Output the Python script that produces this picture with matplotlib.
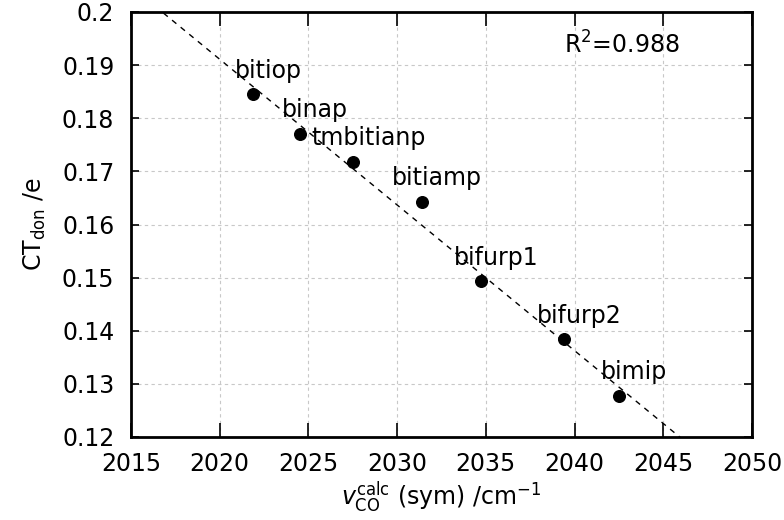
import matplotlib
matplotlib.use('Agg')
import matplotlib.pyplot as plt
import numpy as np

# vCO(calc, sym) in cm-1 vs donor charge transfer
ligands = ['bitiop', 'binap', 'tmbitianp', 'bitiamp', 'bifurp1', 'bifurp2', 'bimip']
nu_co = [2021.9, 2024.5, 2027.5, 2031.4, 2034.7, 2039.4, 2042.5]
ct_don = [0.1845, 0.1771, 0.1718, 0.1643, 0.1493, 0.1384, 0.1277]
r2_text = r'R$^2$=0.988'

plt.rcParams['font.family'] = ['DejaVu Sans']
plt.rcParams['mathtext.fontset'] = 'custom'
plt.rcParams['mathtext.rm'] = 'DejaVu Sans'
plt.rcParams['mathtext.it'] = 'DejaVu Sans:italic'

fs = 17
fig = plt.figure(figsize=(7.84, 5.2), dpi=100)
ax = fig.add_axes([131 / 784, 1 - 437 / 520, (752 - 131) / 784, (437 - 12) / 520])

# linear fit
slope, icpt = np.polyfit(nu_co, ct_don, 1)
xf = np.linspace(2015, 2050, 200)
ax.plot(xf, slope * xf + icpt, color='black', lw=1.0, ls=(0, (4, 4)), zorder=2)

ax.scatter(nu_co, ct_don, s=70, color='black', zorder=3)
for name, x, y in zip(ligands, nu_co, ct_don):
    ax.annotate(name, (x, y), xytext=(11, 17), textcoords='offset points',
                ha='center', va='center', fontsize=fs, zorder=4)

ax.text(2039.4, 0.1938, r2_text, ha='left', va='center', fontsize=fs)

ax.set_xlim(2015, 2050)
ax.set_ylim(0.12, 0.2)
ax.set_xticks(np.arange(2015, 2051, 5))
ax.set_yticks(np.arange(0.12, 0.2001, 0.01))
ax.set_yticklabels(['0.12', '0.13', '0.14', '0.15', '0.16', '0.17', '0.18', '0.19', '0.2'])
ax.grid(True, color='#c8c8c8', lw=0.8, ls=(0, (3, 3)))
ax.tick_params(axis='both', direction='in', labelsize=fs, top=True, right=True, width=1.2)
ax.tick_params(axis='x', length=10, pad=11)
ax.tick_params(axis='y', length=6, pad=12)
for sp in ax.spines.values():
    sp.set_linewidth(2)

ax.set_xlabel(r'$v_{\mathrm{CO}}^{\mathrm{calc}}$ (sym) /cm$^{-1}$', fontsize=fs, labelpad=2)
ax.set_ylabel(r'CT$_{\mathrm{don}}$ /e', fontsize=fs, labelpad=10)

fig.savefig('out.png', dpi=100)
